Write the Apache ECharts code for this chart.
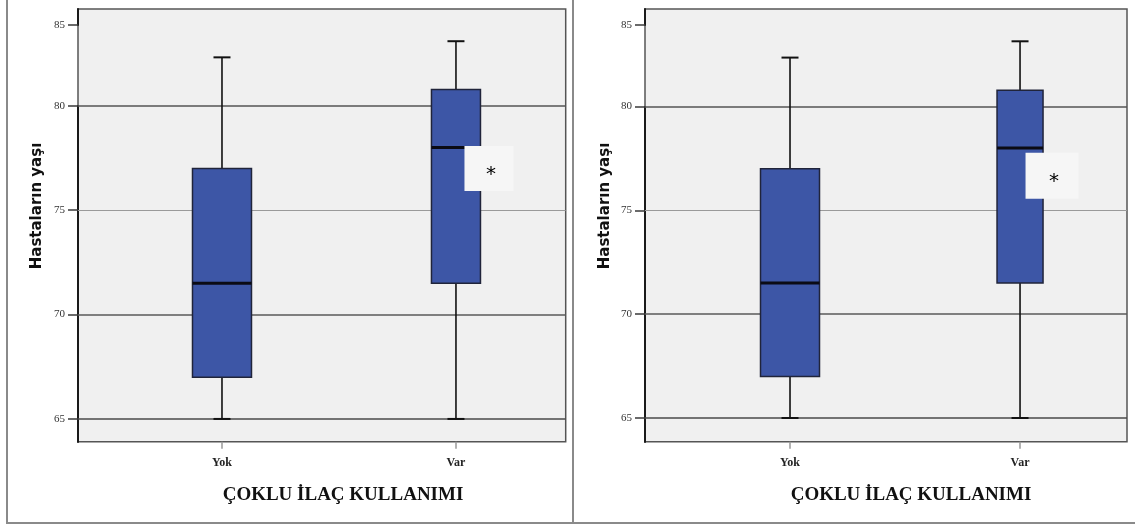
<!DOCTYPE html>
<html>
<head>
<meta charset="utf-8">
<script src="https://cdn.jsdelivr.net/npm/echarts@6/dist/echarts.min.js"></script>
<style>
  html, body { margin: 0; padding: 0; background: #ffffff; }
  #chart { width: 1135px; height: 526px; }
</style>
</head>
<body>
<div id="chart"></div>
<script>
// Age distribution by polypharmacy status (two identical panels)
const categories = ['Yok', 'Var'];
const categoryX = [1, 2];
// [min, Q1, median, Q3, max]
const yokAges = [65, 67, 71.5, 77, 83];
const varAges = [65, 71.5, 78, 81, 84];
const yTicks = [65, 70, 75, 80, 85];
const gridValues = [65, 70, 75, 80];
const starLabel = '*';
const starAnchor = [2, 77];
const yName = 'Hastaların yaşı';
const xName = 'ÇOKLU İLAÇ KULLANIMI';

const chart = echarts.init(document.getElementById('chart'), null, { renderer: 'canvas' });

const boxRows = [[categoryX[0]].concat(yokAges), [categoryX[1]].concat(varAges)];

const panels = [
  { left: 78, right: 569.3, xMin: 0.3846, xMax: 2.469, yMin: 63.91, yMax: 85.77, gap: 3.863,
    widths: [59, 49], star: { size: [49, 45], offset: [33, 0] }, yNameX: 37, xNameX: 338 },
  { left: 645, right: 8, xMin: 0.3696, xMax: 2.465, yMin: 63.86, yMax: 85.77, gap: 3.924,
    widths: [59, 46], star: { size: [53, 46], offset: [32, 7] }, yNameX: 605, xNameX: 906 }
];

const gridLineStyles = {
  65: { color: '#4a4a4a', width: 1.6 },
  70: { color: '#5a5a5a', width: 1.5 },
  75: { color: '#9a9a9a', width: 1.2 },
  80: { color: '#555555', width: 1.6 }
};

function makeRenderer(widths) {
  return function (params, api) {
    const x = api.value(0);
    const lo = api.coord([x, api.value(1)]);
    const q1 = api.coord([x, api.value(2)]);
    const med = api.coord([x, api.value(3)]);
    const q3 = api.coord([x, api.value(4)]);
    const hi = api.coord([x, api.value(5)]);
    const w = widths[params.dataIndex];
    const cx = lo[0];
    const cap = 8.5;
    const lineStyle = { stroke: '#111111', lineWidth: 1.6 };
    return {
      type: 'group',
      children: [
        { type: 'line', shape: { x1: cx, y1: q3[1], x2: cx, y2: hi[1] }, style: lineStyle },
        { type: 'line', shape: { x1: cx, y1: q1[1], x2: cx, y2: lo[1] }, style: lineStyle },
        { type: 'line', shape: { x1: cx - cap, y1: hi[1], x2: cx + cap, y2: hi[1] }, style: { stroke: '#111111', lineWidth: 2 } },
        { type: 'line', shape: { x1: cx - cap, y1: lo[1], x2: cx + cap, y2: lo[1] }, style: { stroke: '#111111', lineWidth: 2 } },
        { type: 'rect', shape: { x: cx - w / 2, y: q3[1], width: w, height: q1[1] - q3[1] },
          style: { fill: '#3d56a6', stroke: '#20243a', lineWidth: 1.5 } },
        { type: 'line', shape: { x1: cx - w / 2, y1: med[1], x2: cx + w / 2, y2: med[1] },
          style: { stroke: '#0b0b14', lineWidth: 3 } }
      ]
    };
  };
}

const grid = [], xAxis = [], yAxis = [], series = [], title = [], graphic = [];

panels.forEach(function (p, i) {
  grid.push({ left: p.left, right: p.right, top: 9, bottom: 84.3, show: true,
    backgroundColor: '#f0f0f0', borderColor: '#555555', borderWidth: 1.5, containLabel: false });

  xAxis.push({
    type: 'value', gridIndex: i, min: p.xMin, max: p.xMax,
    axisLine: { show: false },
    splitLine: { show: false },
    axisTick: { show: true, customValues: categoryX, length: 7, lineStyle: { color: '#999999', width: 1.5 } },
    axisLabel: { show: true, customValues: categoryX, margin: 15,
      formatter: function (v) { return categories[categoryX.indexOf(v)] || ''; },
      fontFamily: 'Liberation Serif', fontWeight: 'bold', fontSize: 12, color: '#222222' }
  });

  yAxis.push({
    type: 'value', gridIndex: i, min: p.yMin, max: p.yMax,
    breaks: [{ start: 80, end: 85, gap: p.gap }],
    breakArea: { show: false },
    axisLine: { show: true, lineStyle: { color: '#1a1a1a', width: 2 } },
    splitLine: { show: false },
    axisTick: { show: true, customValues: yTicks, length: 10, lineStyle: { color: '#3a3a3a', width: 1.5 } },
    axisLabel: { show: true, customValues: yTicks, margin: 13,
      fontFamily: 'Liberation Serif', fontSize: 11, color: '#333333' }
  });

  // grid lines
  series.push({
    type: 'line', xAxisIndex: i, yAxisIndex: i, data: [], silent: true, z: 1,
    markLine: {
      z: 1, silent: true, symbol: ['none', 'none'], label: { show: false },
      data: gridValues.map(function (v) {
        return { yAxis: v, lineStyle: { type: 'solid', color: gridLineStyles[v].color, width: gridLineStyles[v].width } };
      })
    }
  });

  series.push({
    type: 'custom', xAxisIndex: i, yAxisIndex: i, z: 3,
    renderItem: makeRenderer(p.widths),
    encode: { x: 0, y: [1, 2, 3, 4, 5] },
    data: boxRows,
    markPoint: {
      z: 6, silent: true,
      data: [{
        coord: starAnchor, symbol: 'rect', symbolSize: p.star.size, symbolOffset: p.star.offset,
        itemStyle: { color: '#f6f6f6' },
        label: { show: true, formatter: starLabel, position: 'inside', offset: [2, 6],
          fontFamily: 'DejaVu Sans', fontSize: 20, color: '#000000' }
      }]
    }
  });

  title.push({
    text: xName, left: p.xNameX, top: 481, textAlign: 'center',
    textStyle: { fontFamily: 'Liberation Serif', fontWeight: 'bold', fontSize: 19, color: '#111111' }
  });

  graphic.push({
    type: 'text', x: p.yNameX, y: 206, rotation: Math.PI / 2,
    style: { text: yName, align: 'center', verticalAlign: 'middle',
      font: 'bold 15px "DejaVu Sans"', fill: '#111111' }
  });
});

// outer panel frames
graphic.push(
  { type: 'line', shape: { x1: 7, y1: 0, x2: 7, y2: 523 }, style: { stroke: '#8a8a8a', lineWidth: 2 } },
  { type: 'line', shape: { x1: 573, y1: 0, x2: 573, y2: 523 }, style: { stroke: '#8a8a8a', lineWidth: 2 } },
  { type: 'line', shape: { x1: 6, y1: 523, x2: 1135, y2: 523 }, style: { stroke: '#8a8a8a', lineWidth: 2 } }
);

chart.setOption({
  animation: false,
  backgroundColor: '#ffffff',
  title: title,
  grid: grid,
  xAxis: xAxis,
  yAxis: yAxis,
  series: series,
  graphic: graphic
});
</script>
</body>
</html>
